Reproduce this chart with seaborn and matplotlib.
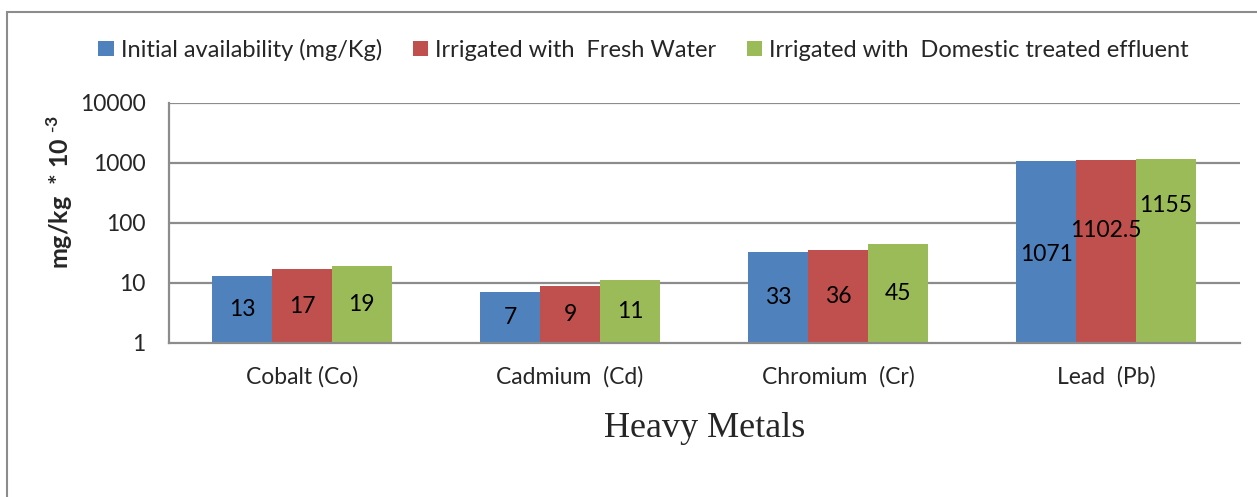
import numpy as np
import pandas as pd
import seaborn as sns
import matplotlib.pyplot as plt
from matplotlib.patches import Rectangle

metals = ['Cobalt (Co)', 'Cadmium  (Cd)', 'Chromium  (Cr)', 'Lead  (Pb)']
series = ['Initial availability (mg/Kg)', 'Irrigated with  Fresh Water',
          'Irrigated with  Domestic treated effluent']
initial = [13, 7, 33, 1071]
fresh = [17, 9, 36, 1102.5]
effluent = [19, 11, 45, 1155]
labels = [['13', '7', '33', '1071'],
          ['17', '9', '36', '1102.5'],
          ['19', '11', '45', '1155']]
colors = ['#4F81BD', '#C0504D', '#9BBB59']

df = pd.DataFrame({
    'metal': metals * 3,
    'series': [s for s in series for _ in metals],
    'value': initial + fresh + effluent,
})

sns.set_style('white')
plt.rcParams['font.family'] = ['Lato', 'DejaVu Sans']
plt.rcParams['mathtext.fontset'] = 'custom'
plt.rcParams['mathtext.bf'] = 'Lato:bold'

fig = plt.figure(figsize=(12.57, 4.97), dpi=100)
ax = fig.add_axes([0.1345, 0.31, 0.852, 0.483])
ax.set_yscale('log')

sns.barplot(data=df, x='metal', y='value', hue='series', palette=colors,
            width=0.67, gap=0, saturation=1, edgecolor='none', ax=ax,
            legend=True)

ax.set_ylim(1, 10000)
ax.set_xlim(-0.496, 3.5)
ax.set_yticks([1, 10, 100, 1000, 10000])
ax.set_yticklabels(['1', '10', '100', '1000', '10000'], fontsize=16.5)
ax.yaxis.set_minor_locator(plt.NullLocator())
ax.tick_params(axis='x', labelsize=16.5, length=0, pad=17)
ax.tick_params(axis='y', length=0, pad=17)
for v in [10, 100, 1000, 10000]:
    ax.axhline(v, color='#8c8c8c', lw=1.6, zorder=0)
for side in ['top', 'right']:
    ax.spines[side].set_visible(False)
for side in ['left', 'bottom']:
    ax.spines[side].set_color('#8c8c8c')
    ax.spines[side].set_linewidth(1.6)

ax.set_xlabel('Heavy Metals', fontsize=26, family='Liberation Serif', labelpad=17)
ax.set_ylabel(r'mg/kg  * 10 $^{\mathbf{\text{-}3}}$', fontsize=18, fontweight='bold')
ax.yaxis.set_label_coords(-0.088, 0.63)

# value labels centred on each bar (log middle), lead labels nudged up like the original
offsets = [[0, 0, 0, -2], [0, 0, 0, 15.5], [0, 0, 0, 32.5]]
for i, cont in enumerate(ax.containers):
    for j, bar in enumerate(cont.patches):
        h = bar.get_height()
        ymid = np.sqrt(h)
        ax.annotate(labels[i][j], (bar.get_x() + bar.get_width() / 2, ymid),
                    xytext=(0, offsets[i][j]), textcoords='offset points',
                    ha='center', va='center', fontsize=16.5, color='black')

h, l = ax.get_legend_handles_labels()
ax.legend(h, l, loc='center', bbox_to_anchor=(0.512, 0.9), bbox_transform=fig.transFigure,
          ncol=3, frameon=False, fontsize=17, handlelength=0.65, handleheight=0.65,
          handletextpad=0.3, columnspacing=1.3)

fig.patches.append(Rectangle((7 / 1257, -0.1), 1.2, 1 - 12 / 497 + 0.1,
                             transform=fig.transFigure, fill=False,
                             edgecolor='#8c8c8c', lw=1.5))

fig.savefig('out.png', dpi=100)
